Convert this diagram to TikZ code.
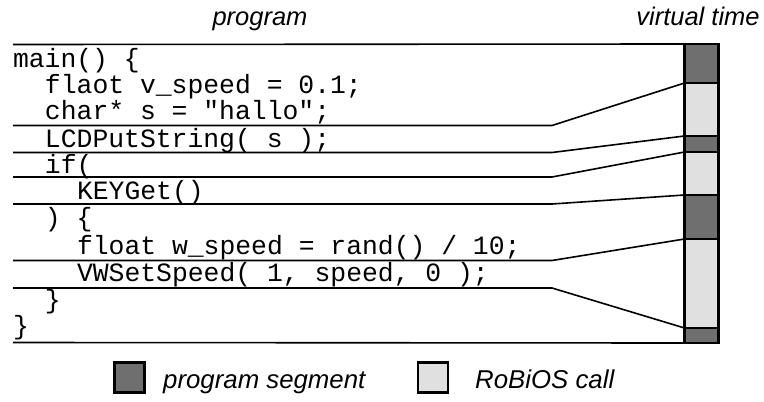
\documentclass[tikz,border=0pt]{standalone}
\usepackage{fontspec}
\setmainfont{Liberation Sans}
\setmonofont{Liberation Mono}
\definecolor{segdark}{HTML}{6F6F6F}
\definecolor{seglight}{HTML}{E0E0E0}
\begin{document}
\begin{tikzpicture}[x=1pt,y=-1pt,
  code/.style={font=\fontsize{26.4}{26.4}\selectfont\ttfamily, anchor=base west, inner sep=0pt, outer sep=0pt},
  title/.style={font=\fontsize{25.5}{25.5}\selectfont\itshape, anchor=base, inner sep=0pt},
  legtext/.style={font=\fontsize{25.8}{25.8}\selectfont\itshape, anchor=base west, inner sep=0pt},
  conn/.style={line width=1.6pt, line join=miter},
  seg/.style={draw, line width=2.8pt, minimum width=34pt, inner sep=0pt, outer sep=0pt, anchor=north west},
  dark/.style={seg, fill=segdark},
  light/.style={seg, fill=seglight},
  legbox/.style={draw, line width=2.6pt, minimum width=30pt, minimum height=30pt, inner sep=0pt}]
\useasboundingbox (0,0) rectangle (764,402);
% titles
\node[title] (tprog) at (260,25) {program};
\node[title] (ttime) at (698,25) {virtual time};
% code
\node[code] (c1) at (13,67) {main() \{};
\node[code] (c2) at (45,93) {flaot v\_speed = 0.1;};
\node[code] (c3) at (45,119) {char* s = "hallo";};
\node[code] (c4) at (45,147) {LCDPutString( s );};
\node[code] (c5) at (45,173.5) {if(};
\node[code] (c6) at (77,199) {KEYGet()};
\node[code] (c7) at (45,226) {) \{};
\node[code] (c8) at (77,254) {float w\_speed = rand() / 10;};
\node[code] (c9) at (77,281) {VWSetSpeed( 1, speed, 0 );};
\node[code] (c10) at (45,308) {\}};
\node[code] (c11) at (13,334) {\}};
% virtual time bar
\node[dark,  minimum height=39pt] (s1) at (684.5,44) {};
\node[light, minimum height=53pt] (s2) at (684.5,83) {};
\node[dark,  minimum height=16pt] (s3) at (684.5,136) {};
\node[light, minimum height=43pt] (s4) at (684.5,152) {};
\node[dark,  minimum height=44pt] (s5) at (684.5,195) {};
\node[light, minimum height=89pt] (s6) at (684.5,239) {};
\node[dark,  minimum height=15pt] (s7) at (684.5,328) {};
% line start points
\coordinate (l0) at (13,44.5);
\coordinate (l1) at (13,125.5);
\coordinate (l2) at (13,152.5);
\coordinate (l3) at (13,177);
\coordinate (l4) at (13,204);
\coordinate (l5) at (13,260.5);
\coordinate (l6) at (13,288);
\coordinate (l7) at (13,342.5);
% connectors
\draw[conn] (l0) -- (s1.north west);
\draw[conn] (l1) -- ++(539,0) -- (s2.north west);
\draw[conn] (l2) -- ++(539,0) -- (s3.north west);
\draw[conn] (l3) -- ++(539,0) -- (s4.north west);
\draw[conn] (l4) -- ++(539,0) -- (s5.north west);
\draw[conn] (l5) -- ++(539,0) -- (s6.north west);
\draw[conn] (l6) -- ++(539,0) -- (s7.north west);
\draw[conn] (l7) -- (s7.south west);
% legend
\node[legbox, fill=segdark] (kdark) at (129.5,377.5) {};
\node[legtext] (kdarkt) at (163,388) {program segment};
\node[legbox, fill=seglight] (klight) at (433,377.5) {};
\node[legtext] (klightt) at (475,388) {RoBiOS call};
\end{tikzpicture}
\end{document}
